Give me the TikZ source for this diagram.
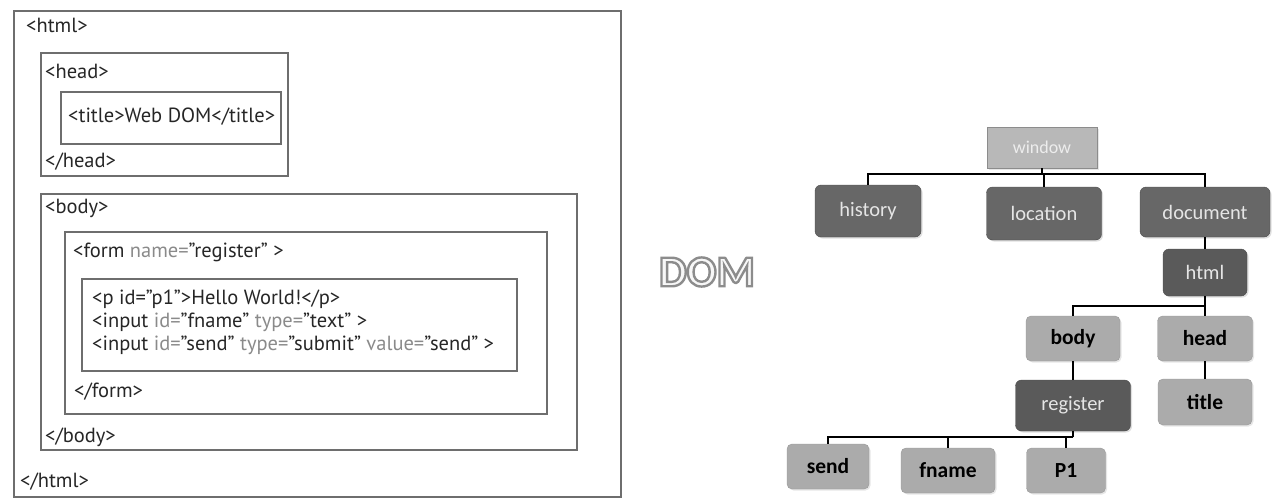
\documentclass[tikz,border=0pt]{standalone}
\usepackage{fontspec}
\usepackage{xcolor}
\setmainfont{PT Sans}
\newfontfamily\treefont{Carlito}
\usetikzlibrary{positioning,shadows}
\definecolor{boxline}{HTML}{6E6E6E}
\definecolor{attrgray}{HTML}{8A8A8A}
\definecolor{darkfill}{HTML}{676767}
\definecolor{darkerfill}{HTML}{5A5A5A}
\definecolor{lightfill}{HTML}{ABABAB}
\newcommand{\attr}[1]{\textcolor{attrgray}{#1}}
% hollow letters: fill and stroke the glyphs
\newcommand{\hollow}[1]{\special{pdf:literal direct 2 Tr 2.4 w 0.55 G}#1\special{pdf:literal direct 0 Tr}}
\tikzstyle{tag} = [anchor=west, inner sep=0pt, text=black!85, font=\fontsize{20.5}{23}\selectfont]
\tikzstyle{nest} = [draw=boxline, line width=1.1pt]
\tikzstyle{winbox} = [rectangle, draw=black!45, fill=black!28, text=black!7, font=\treefont\fontsize{18}{20}\selectfont, drop shadow={opacity=0.2,shadow xshift=1.5pt,shadow yshift=-1.5pt}]
\tikzstyle{darkbox} = [rectangle, rounded corners=6pt, draw=black!70, fill=darkfill, text=black!10, font=\treefont\fontsize{20.5}{22}\selectfont, drop shadow={opacity=0.25,shadow xshift=1.5pt,shadow yshift=-1.5pt}]
\tikzstyle{lightbox} = [rectangle, rounded corners=5pt, draw=black!40, fill=lightfill, text=black, font=\treefont\bfseries\fontsize{21.5}{23}\selectfont, drop shadow={opacity=0.2,shadow xshift=1.5pt,shadow yshift=-1.5pt}]
\tikzstyle{link} = [draw=black, line width=2pt]
\tikzstyle{domtxt} = [inner sep=0pt, text=black!3, font=\treefont\bfseries\fontsize{44}{44}\selectfont]

\begin{document}
\begin{tikzpicture}[x=1pt,y=-1pt]
  \useasboundingbox (0,0) rectangle (1286,501);

  % html source, nested boxes
  \draw[nest] (14,11) rectangle (621,497);
  \draw[nest] (41,53) rectangle (288,176);
  \draw[nest] (61,92) rectangle (281,144);
  \draw[nest] (41,194) rectangle (577,450);
  \draw[nest] (65,232) rectangle (547,414);
  \draw[nest] (82,279) rectangle (517,371);

  \node[tag] (html_open) at (26,25) {<html>};
  \node[tag] (head_open) at (45,71) {<head>};
  \node[tag] (title_line) at (68,117) {<title>Web DOM</title>};
  \node[tag] (head_close) at (45,162) {</head>};
  \node[tag] (body_open) at (45,208) {<body>};
  \node[tag] (form_open) at (73,252) {<form \attr{name=}"register" >};
  \node[tag] (p_line) at (92,299) {<p id="p1">Hello World!</p>};
  \node[tag] (fname_line) at (92,322) {<input \attr{id=}"fname" \attr{type=}"text" >};
  \node[tag] (send_line) at (92,345) {<input \attr{id=}"send" \attr{type=}"submit" \attr{value=}"send" >};
  \node[tag] (form_close) at (74,392) {</form>};
  \node[tag] (body_close) at (45,437) {</body>};
  \node[tag] (html_close) at (20,482) {</html>};

  % outlined DOM caption
  \node[domtxt] (DOM) at (707,272) {\hollow{DOM}};

  % tree
  \node[winbox, minimum width=110pt, minimum height=41pt] (window) at (1042,147.5) {window};
  \node[darkbox, minimum width=106pt, minimum height=52pt] (history) at (868,211) {history};
  \node[darkbox, minimum width=115pt, minimum height=53pt] (location) at (1044,213.5) {location};
  \node[darkbox, minimum width=130pt, minimum height=50pt] (document) at (1205,212) {document};
  \node[darkbox, fill=darkerfill, minimum width=84pt, minimum height=47pt] (html) at (1205,272.5) {html};
  \node[lightbox, minimum width=94pt, minimum height=45pt] (body) at (1073,338.5) {body};
  \node[lightbox, minimum width=95pt, minimum height=45pt] (head) at (1205,338.5) {head};
  \node[lightbox, minimum width=94pt, minimum height=46pt] (title) at (1205,402) {title};
  \node[darkbox, fill=darkerfill, minimum width=115pt, minimum height=51pt] (register) at (1073,405.5) {register};
  \node[lightbox, minimum width=82pt, minimum height=45pt] (send) at (828,466.5) {send};
  \node[lightbox, minimum width=94pt, minimum height=45pt] (fname) at (948,470.5) {fname};
  \node[lightbox, minimum width=79pt, minimum height=45pt] (P1) at (1066,470.5) {P1};

  \coordinate (J_window) at (1042,174);
  \coordinate (J_html) at (1205,306);
  \coordinate (J_register) at (1073,437);

  \path[link] (window) -- (J_window);
  \path[link] (J_window) -| (history);
  \path[link] (J_window) -| (location);
  \path[link] (J_window) -| (document);
  \path[link] (document) -- (html);
  \path[link] (html) -- (J_html);
  \path[link] (J_html) -| (body);
  \path[link] (J_html) -- (head);
  \path[link] (head) -- (title);
  \path[link] (body) -- (register);
  \path[link] (register) -- (J_register);
  \path[link] (J_register) -| (send);
  \path[link] (J_register) -| (fname);
  \path[link] (J_register) -| (P1);
\end{tikzpicture}
\end{document}
